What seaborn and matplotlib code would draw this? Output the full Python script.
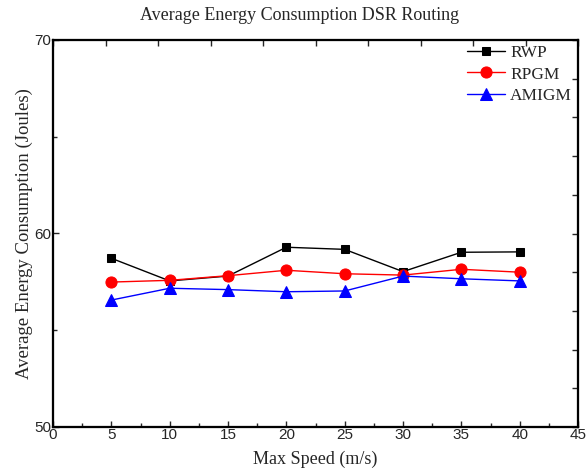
import matplotlib
matplotlib.use("Agg")
import matplotlib.pyplot as plt
import seaborn as sns
import pandas as pd
import numpy as np
from matplotlib.ticker import MultipleLocator

speeds = [5, 10, 15, 20, 25, 30, 35, 40]
rwp = [58.72, 57.55, 57.8, 59.29, 59.18, 58.03, 59.03, 59.05]
rpgm = [57.49, 57.58, 57.82, 58.1, 57.92, 57.85, 58.15, 58.0]
amigm = [56.56, 57.17, 57.1, 56.99, 57.03, 57.8, 57.66, 57.55]
series_names = ["RWP", "RPGM", "AMIGM"]

sns.set_style("white")
plt.rcParams['font.family'] = ['Liberation Serif', 'DejaVu Serif']

W, H = 586, 473
fig = plt.figure(figsize=(W/100, H/100), dpi=100)
L, R, T, B = 53, 578, 40, 427
ax = fig.add_axes([L/W, 1-B/H, (R-L)/W, (B-T)/H])

styles = {"RWP": ("black", "s", 6.2), "RPGM": ("red", "o", 8), "AMIGM": ("blue", "^", 8)}
for name, vals in zip(series_names, [rwp, rpgm, amigm]):
    c, m, ms = styles[name]
    df = pd.DataFrame({"x": speeds, "y": vals})
    sns.lineplot(data=df, x="x", y="y", ax=ax, color=c, marker=m, markersize=ms,
                 markeredgecolor=c, linewidth=1, label=name)

ax.set_xlim(0, 45)
ax.set_ylim(50, 70)
ax.set_xticks(np.arange(0, 46, 5))
ax.set_yticks([50, 60, 70])
ax.xaxis.set_minor_locator(MultipleLocator(2.5))
ax.yaxis.set_minor_locator(MultipleLocator(5))
ax.tick_params(which='both', direction='in', top=False, right=False)
ax.tick_params(which='major', length=4, width=1, labelsize=11, pad=1)
ax.tick_params(which='minor', length=3, width=1)
for lab in ax.get_xticklabels() + ax.get_yticklabels():
    lab.set_fontfamily(['Liberation Sans', 'DejaVu Sans'])
for s in ax.spines.values():
    s.set_linewidth(1.5)
    s.set_color('black')

# top and right tick marks
axr = ax.twinx()
axr.set_ylim(50, 70)
axr.set_yticks(np.arange(50, 71, 2))
axr.tick_params(direction='in', length=4, labelright=False, width=1)
axt = ax.twiny()
axt.set_xlim(0, 45)
axt.set_xticks(np.arange(0, 45.1, 4.5))
axt.tick_params(direction='in', length=4, labeltop=False, width=1)
for a in (axr, axt):
    for s in a.spines.values():
        s.set_linewidth(1.5)
        s.set_color('black')

ax.set_xlabel("Max Speed (m/s)", fontsize=13)
ax.xaxis.set_label_coords(0.5, -(451-B)/(B-T))
ax.set_ylabel("Average Energy Consumption (Joules)", fontsize=13.5)
ax.yaxis.set_label_coords(-(L-33)/(R-L), 0.5)
fig.text(300/W, 1-15/H, "Average Energy Consumption DSR Routing", fontsize=13,
         ha='center', va='center')

leg = ax.legend(loc='upper right', frameon=False, fontsize=12.5, handlelength=2.2,
                handletextpad=0.3, labelspacing=0.3, borderaxespad=0, borderpad=0,
                bbox_to_anchor=(572/W, 1-45/H), bbox_transform=fig.transFigure)
leg.set_zorder(5)

fig.savefig("out.png", dpi=100)
